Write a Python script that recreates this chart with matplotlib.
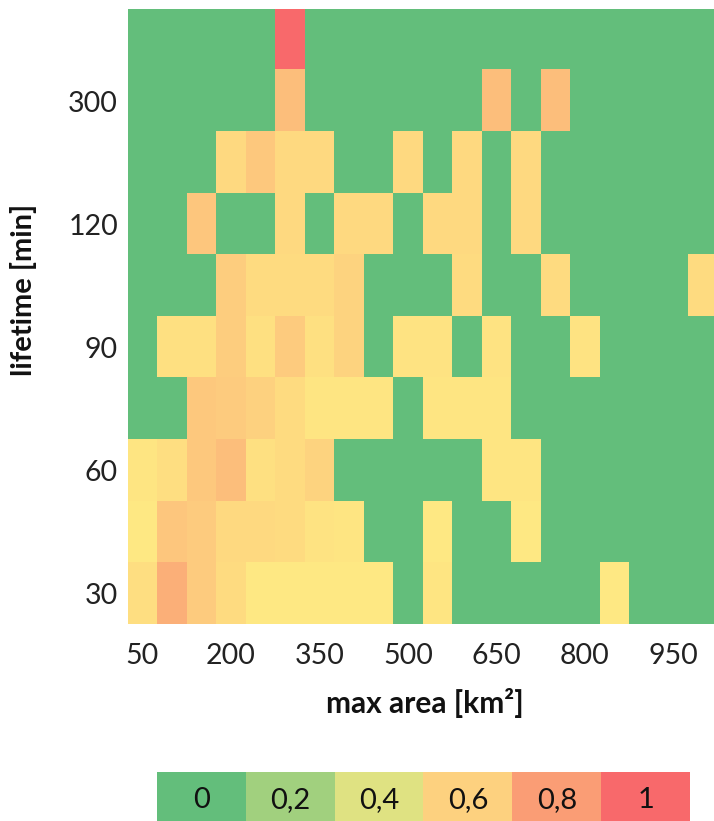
import numpy as np
import matplotlib
matplotlib.use('Agg')
import matplotlib.pyplot as plt
from matplotlib.colors import LinearSegmentedColormap

# x categories: max area bins (km2), 50 .. 1000
area_bins = list(range(50, 1001, 50))
area_ticks = ['50', '200', '350', '500', '650', '800', '950']

# y: lifetime rows from bottom to top, labelled every other row
lifetime_ticks = ['30', '60', '90', '120', '300']

# cell values, one list per row, top row first
share = [
    [0, 0, 0, 0, 0, 1.0, 0, 0, 0, 0, 0, 0, 0, 0, 0, 0, 0, 0, 0, 0],
    [0, 0, 0, 0, 0, .67, 0, 0, 0, 0, 0, 0, .67, 0, .67, 0, 0, 0, 0, 0],
    [0, 0, 0, .57, .63, .57, .57, 0, 0, .57, 0, .57, 0, .57, 0, 0, 0, 0, 0, 0],
    [0, 0, .64, 0, 0, .57, 0, .57, .57, 0, .57, .57, 0, .57, 0, 0, 0, 0, 0, 0],
    [0, 0, 0, .61, .56, .56, .56, .59, 0, 0, 0, .56, 0, 0, .56, 0, 0, 0, 0, .56],
    [0, .54, .54, .61, .54, .62, .54, .59, 0, .53, .53, 0, .53, 0, 0, .53, 0, 0, 0, 0],
    [0, 0, .63, .62, .6, .56, .52, .52, .52, 0, .52, .52, .52, 0, 0, 0, 0, 0, 0, 0],
    [.52, .55, .63, .67, .54, .56, .59, 0, 0, 0, 0, 0, .52, .52, 0, 0, 0, 0, 0, 0],
    [.51, .64, .62, .57, .57, .56, .53, .52, 0, 0, .51, 0, 0, .51, 0, 0, 0, 0, 0, 0],
    [.55, .73, .62, .56, .51, .51, .51, .51, .51, 0, .52, 0, 0, 0, 0, 0, .51, 0, 0, 0],
]

legend_values = [0, 0.2, 0.4, 0.6, 0.8, 1]
legend_labels = ['0', '0,2', '0,4', '0,6', '0,8', '1']

# Excel-like green / yellow / red scale
cmap = LinearSegmentedColormap.from_list(
    'gyr', [(0, '#63BE7B'), (0.5, '#FFEB84'), (1, '#F8696B')])

plt.rcParams['font.family'] = ['Lato', 'DejaVu Sans']

W, H = 714, 821
fig = plt.figure(figsize=(W / 100, H / 100), dpi=100)

# main heatmap (right edge runs a bit past the figure, as in the original)
left, right, top, bottom = 127.7, 717.7, 9, 624
ax = fig.add_axes([left / W, 1 - bottom / H, (right - left) / W, (bottom - top) / H])
data = np.array(share)
nrows, ncols = data.shape
ax.imshow(data, cmap=cmap, vmin=0, vmax=1, aspect='auto',
          extent=(0, ncols, 0, nrows), interpolation='nearest')
ax.set_xlim(0, ncols)
ax.set_ylim(0, nrows)
ax.set_xticks([i + 0.5 for i in range(0, ncols, 3)])
ax.set_xticklabels([str(area_bins[i]) for i in range(0, ncols, 3)])
ax.set_yticks([i + 0.5 for i in range(0, nrows, 2)])
ax.set_yticklabels(lifetime_ticks)
ax.tick_params(length=0, labelsize=20.5, colors='#222222', pad=7)
ax.tick_params(axis='x', pad=14)
for s in ax.spines.values():
    s.set_visible(False)

fig.text(425 / W, 1 - 703 / H, 'max area [km²]', ha='center', va='center',
         fontsize=21.5, fontweight='bold', color='#111111')
fig.text(24 / W, 1 - 290 / H, 'lifetime [min]', ha='center', va='center',
         rotation=90, fontsize=21, fontweight='bold', color='#111111')

# discrete legend strip
lx0, lx1, ly0, ly1 = 157, 690, 772, 825
lax = fig.add_axes([lx0 / W, 1 - ly1 / H, (lx1 - lx0) / W, (ly1 - ly0) / H])
lax.imshow([legend_values], cmap=cmap, vmin=0, vmax=1, aspect='auto',
           extent=(0, len(legend_values), 0, 1))
for i, lab in enumerate(legend_labels):
    lax.text(i + 0.5, 0.48, lab, ha='center', va='center', fontsize=21, color='#111111')
lax.set_xlim(0, len(legend_values))
lax.set_ylim(0, 1)
lax.axis('off')

fig.savefig('out.png', dpi=100)
